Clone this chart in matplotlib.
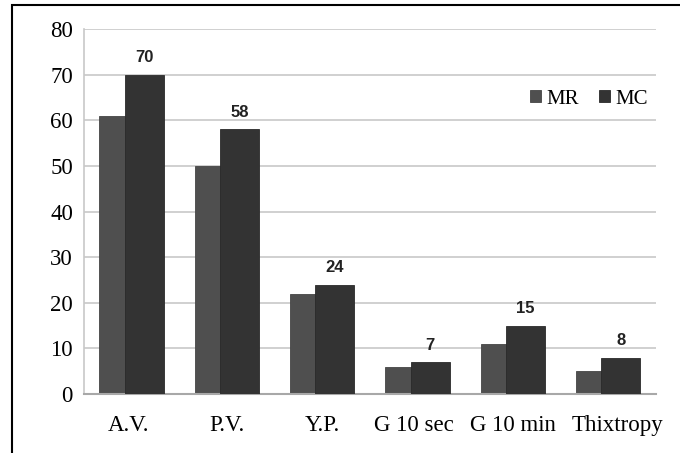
import matplotlib
matplotlib.use("Agg")
import matplotlib.pyplot as plt
import numpy as np
from matplotlib.patches import Rectangle
from matplotlib.transforms import ScaledTranslation

categories = ["A.V.", "P.V.", "Y.P.", "G 10 sec", "G 10 min", "Thixtropy"]
mr_values = [61, 50, 22, 6, 11, 5]
mc_values = [70, 58, 24, 7, 15, 8]
yticks = [0, 10, 20, 30, 40, 50, 60, 70, 80]

W, H = 680, 453
fig = plt.figure(figsize=(W/100, H/100), dpi=100)
ax = fig.add_axes([84/W, 1-394/H, (656-84)/W, (394-29)/H])

x = np.arange(len(categories))
bw = 0.41
ax.bar(x - 0.34 + bw/2, mr_values, width=bw, color="#4f4f4f", edgecolor="#444444", linewidth=0.6, zorder=2, label="MR")
ax.bar(x + 0.335 - bw/2, mc_values, width=bw, color="#333333", edgecolor="#2a2a2a", linewidth=0.6, zorder=3, label="MC")

for xi, v in zip(x, mc_values):
    ax.text(xi + 0.335 - bw/2, v + 2.0, str(v), ha="center", va="bottom",
            fontsize=12, fontweight="bold", family="Liberation Sans", color="#222222")

ax.set_xlim(-0.5, len(categories) - 0.5)
ax.set_ylim(0, 80)
ax.set_yticks(yticks)
ax.set_xticks(x)
ax.set_xticklabels(categories, family="Liberation Serif", fontsize=16.5)
ax.set_yticklabels([str(t) for t in yticks], family="Liberation Serif", fontsize=16.5)
ax.tick_params(axis="both", length=0)
ax.tick_params(axis="x", pad=15)
ax.tick_params(axis="y", pad=8)
ax.grid(axis="y", color="#c8c8c8", linewidth=1.2, zorder=0)
for s in ["top", "right"]:
    ax.spines[s].set_visible(False)
ax.spines["left"].set_color("#c8c8c8")
ax.spines["bottom"].set_color("#a8a8a8")
ax.spines["left"].set_linewidth(1.2)
ax.spines["bottom"].set_linewidth(1.5)

labels = ax.get_xticklabels()
shifts = [-3, 0, 0, -4, 0, 9]
for lab, dx in zip(labels, shifts):
    lab.set_transform(lab.get_transform() + ScaledTranslation(dx/100, 0, fig.dpi_scale_trans))

leg = ax.legend(loc="upper right", bbox_to_anchor=(1.018, 0.885), ncol=2, frameon=False,
                prop={"family": "Liberation Serif", "size": 15}, handlelength=0.5,
                handleheight=0.5, handletextpad=0.25, columnspacing=1.0)

fig.patches.append(Rectangle((12/W, -0.1), 1.1, 1 - 5/H + 0.1, transform=fig.transFigure,
                             fill=False, edgecolor="black", linewidth=1.5))

fig.savefig("out.png", dpi=100)
